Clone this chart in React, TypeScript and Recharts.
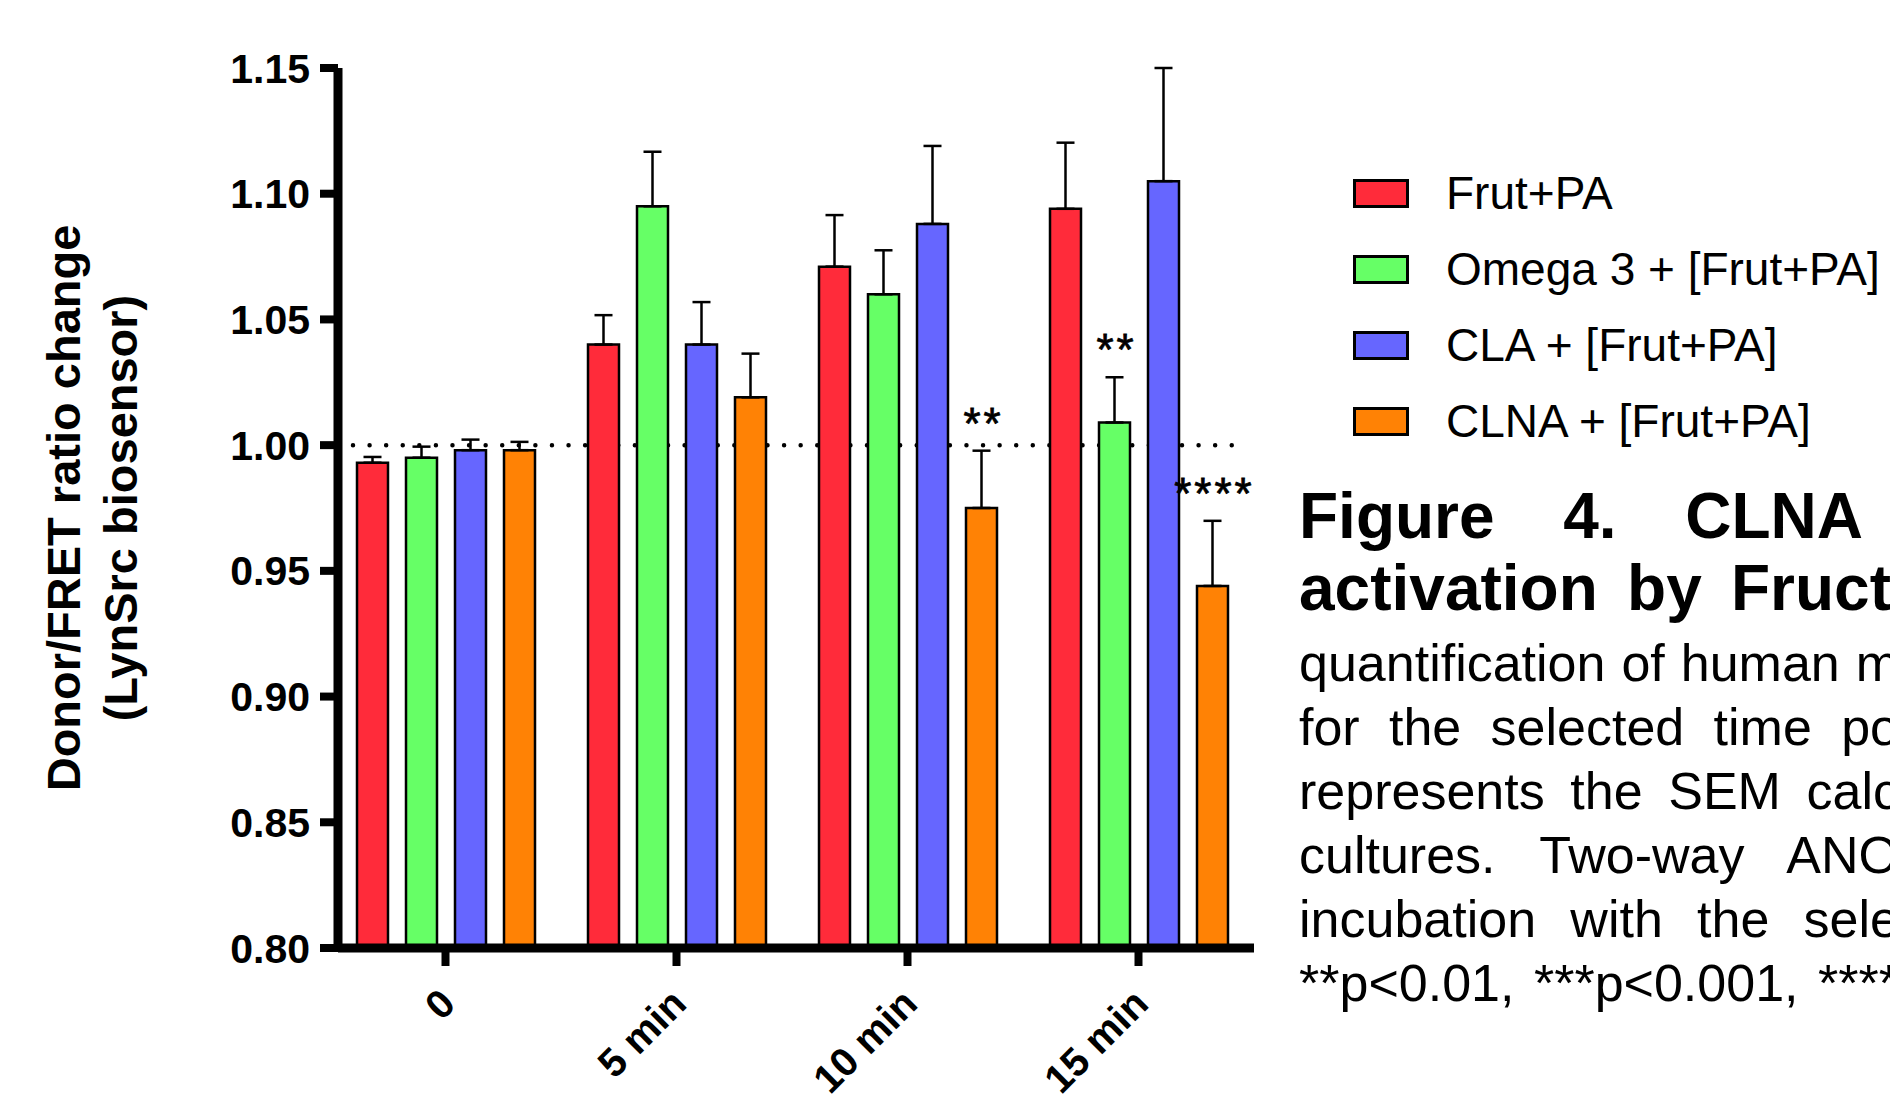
import React from "react";
import {
  BarChart,
  Bar,
  XAxis,
  YAxis,
  ErrorBar,
  LabelList,
  Legend,
  ReferenceLine,
} from "recharts";

const FONT = '"Liberation Sans", Arial, Helvetica, sans-serif';

const CATEGORIES = ["0", "5 min", "10 min", "15 min"];
const Y_TICKS = [0.8, 0.85, 0.9, 0.95, 1.0, 1.05, 1.1, 1.15];
const BASE = 0.8;

const FRUT_PA = [0.993, 1.04, 1.071, 1.094];
const FRUT_PA_SEM = [0.0023, 0.0117, 0.0205, 0.0263];
const OMEGA3 = [0.995, 1.095, 1.06, 1.009];
const OMEGA3_SEM = [0.0044, 0.0217, 0.0175, 0.018];
const CLA = [0.998, 1.04, 1.088, 1.105];
const CLA_SEM = [0.0042, 0.0169, 0.031, 0.045];
const CLNA = [0.998, 1.019, 0.975, 0.944];
const CLNA_SEM = [0.0033, 0.0174, 0.0228, 0.0259];
const OMEGA3_SIG = ["", "", "", "**"];
const CLNA_SIG = ["", "", "**", "****"];

const SERIES = [
  { key: "frut", name: "Frut+PA", color: "#FF2B3A", vals: FRUT_PA, sem: FRUT_PA_SEM },
  { key: "omega", name: "Omega 3 + [Frut+PA]", color: "#66FF66", vals: OMEGA3, sem: OMEGA3_SEM, sig: OMEGA3_SIG },
  { key: "cla", name: "CLA + [Frut+PA]", color: "#6666FF", vals: CLA, sem: CLA_SEM },
  { key: "clna", name: "CLNA + [Frut+PA]", color: "#FF8205", vals: CLNA, sem: CLNA_SEM, sig: CLNA_SIG },
];

const CAPTION_BOLD = ["Figure 4. CLNA", "activation by Fruct"];
const CAPTION = [
  "quantification of human m",
  "for the selected time po",
  "represents the SEM calc",
  "cultures. Two-way ANO",
  "incubation with the sele",
  "**p<0.01, ***p<0.001, ****",
];

const data = CATEGORIES.map((cat, i) => {
  const row: Record<string, any> = { cat };
  SERIES.forEach((s) => {
    row[s.key] = s.vals[i];
    row[s.key + "Err"] = [0, s.sem[i]];
    if (s.sig) row[s.key + "Sig"] = s.sig[i];
  });
  return row;
});

function XTick({ x, y, payload }: any) {
  const ax = x + 12;
  const ay = y + 38;
  return (
    <text
      x={ax}
      y={ay}
      transform={`rotate(-45, ${ax}, ${ay})`}
      textAnchor="end"
      fontSize={40}
      fontWeight="bold"
      fontFamily={FONT}
      fill="#000"
    >
      {payload.value}
    </text>
  );
}

function YLabel({ viewBox }: any) {
  const cy = viewBox.y + viewBox.height / 2;
  const x1 = viewBox.x - 158;
  const x2 = viewBox.x - 101;
  const common = {
    textAnchor: "middle" as const,
    fontSize: 47,
    fontWeight: "bold",
    fontFamily: FONT,
    fill: "#000",
  };
  return (
    <g>
      <text x={x1} y={cy} transform={`rotate(-90, ${x1}, ${cy})`} {...common}>
        Donor/FRET ratio change
      </text>
      <text x={x2} y={cy} transform={`rotate(-90, ${x2}, ${cy})`} {...common}>
        (LynSrc biosensor)
      </text>
    </g>
  );
}

function makeSigLabel(s: (typeof SERIES)[number]) {
  return (props: any) => {
    const { x, y, width, height, index, value } = props;
    if (!value) return null;
    const errPx = (s.sem[index] * height) / (s.vals[index] - BASE);
    return (
      <text
        x={x + width / 2 + 2}
        y={y - errPx - 12}
        textAnchor="middle"
        fontSize={44}
        letterSpacing={3}
        fontFamily={FONT}
        stroke="#000"
        strokeWidth={0.8}
        fill="#000"
      >
        {value}
      </text>
    );
  };
}

function DottedLine(props: any) {
  const { x2, y1 } = props;
  return (
    <line
      x1={x2 - 901}
      x2={x2 - 20}
      y1={y1}
      y2={y1}
      stroke="#000"
      strokeWidth={4.5}
      strokeLinecap="round"
      strokeDasharray="0 16.58"
    />
  );
}

function LegendBox() {
  return (
    <div style={{ fontFamily: FONT }}>
      {SERIES.map((s) => (
        <div
          key={s.key}
          style={{ display: "flex", alignItems: "center", height: 76 }}
        >
          <div
            style={{
              width: 50,
              height: 23,
              background: s.color,
              border: "3px solid #000",
            }}
          />
          <span
            style={{
              marginLeft: 37,
              fontSize: 46,
              color: "#000",
              whiteSpace: "nowrap",
            }}
          >
            {s.name}
          </span>
        </div>
      ))}
    </div>
  );
}

export default function App() {
  return (
    <div
      style={{
        position: "fixed",
        left: 0,
        top: 0,
        width: 1890,
        height: 1097,
        overflow: "hidden",
        background: "#fff",
      }}
    >
      <BarChart
        width={1890}
        height={1097}
        data={data}
        margin={{ top: 68, right: 636, bottom: 49, left: 238 }}
        barSize={31}
        barGap={18}
      >
        <ReferenceLine y={1} shape={DottedLine} zIndex={-50} />
        <XAxis
          dataKey="cat"
          padding={{ left: -8, right: 0 }}
          height={100}
          interval={0}
          axisLine={{ stroke: "#000", strokeWidth: 9 }}
          tickLine={{ stroke: "#000", strokeWidth: 8 }}
          tickSize={18}
          tickMargin={2}
          tick={<XTick />}
        />
        <YAxis
          type="number"
          domain={[0.8, 1.15]}
          ticks={Y_TICKS}
          allowDataOverflow
          width={100}
          axisLine={{ stroke: "#000", strokeWidth: 9 }}
          tickLine={{ stroke: "#000", strokeWidth: 8 }}
          tickSize={18}
          tickMargin={10}
          tickFormatter={(v: number) => v.toFixed(2)}
          tick={{
            fill: "#000",
            fontSize: 41,
            fontWeight: "bold",
            fontFamily: FONT,
          }}
          label={{ content: YLabel }}
        />
        <Legend
          layout="vertical"
          align="center"
          verticalAlign="middle"
          wrapperStyle={{ left: 1353, top: 155, width: 537 }}
          content={() => <LegendBox />}
        />
        {SERIES.map((s) => (
          <Bar
            key={s.key}
            dataKey={s.key}
            name={s.name}
            fill={s.color}
            stroke="#000"
            strokeWidth={2.5}
            isAnimationActive={false}
          >
            <ErrorBar
              dataKey={s.key + "Err"}
              direction="y"
              width={9}
              stroke="#000"
              strokeWidth={2.5}
            />
            {s.sig && (
              <LabelList dataKey={s.key + "Sig"} content={makeSigLabel(s)} />
            )}
          </Bar>
        ))}
      </BarChart>

      {CAPTION_BOLD.map((t, i) => (
        <div
          key={t}
          style={{
            position: "absolute",
            left: 1299,
            top: 480 + i * 72,
            width: i === 0 ? 564 : 592,
            height: 72,
            lineHeight: "72px",
            overflow: "hidden",
            fontFamily: FONT,
            fontWeight: "bold",
            fontSize: 64,
            textAlign: "justify",
            textAlignLast: "justify",
            color: "#000",
          }}
        >
          {t}
        </div>
      ))}
      {CAPTION.map((t, i) => (
        <div
          key={t}
          style={{
            position: "absolute",
            left: 1299,
            top: 631 + i * 64,
            width: 600,
            height: 64,
            lineHeight: "64px",
            overflow: "hidden",
            fontFamily: FONT,
            fontSize: 52,
            textAlign: "justify",
            textAlignLast: "justify",
            color: "#000",
          }}
        >
          {t}
        </div>
      ))}
    </div>
  );
}
